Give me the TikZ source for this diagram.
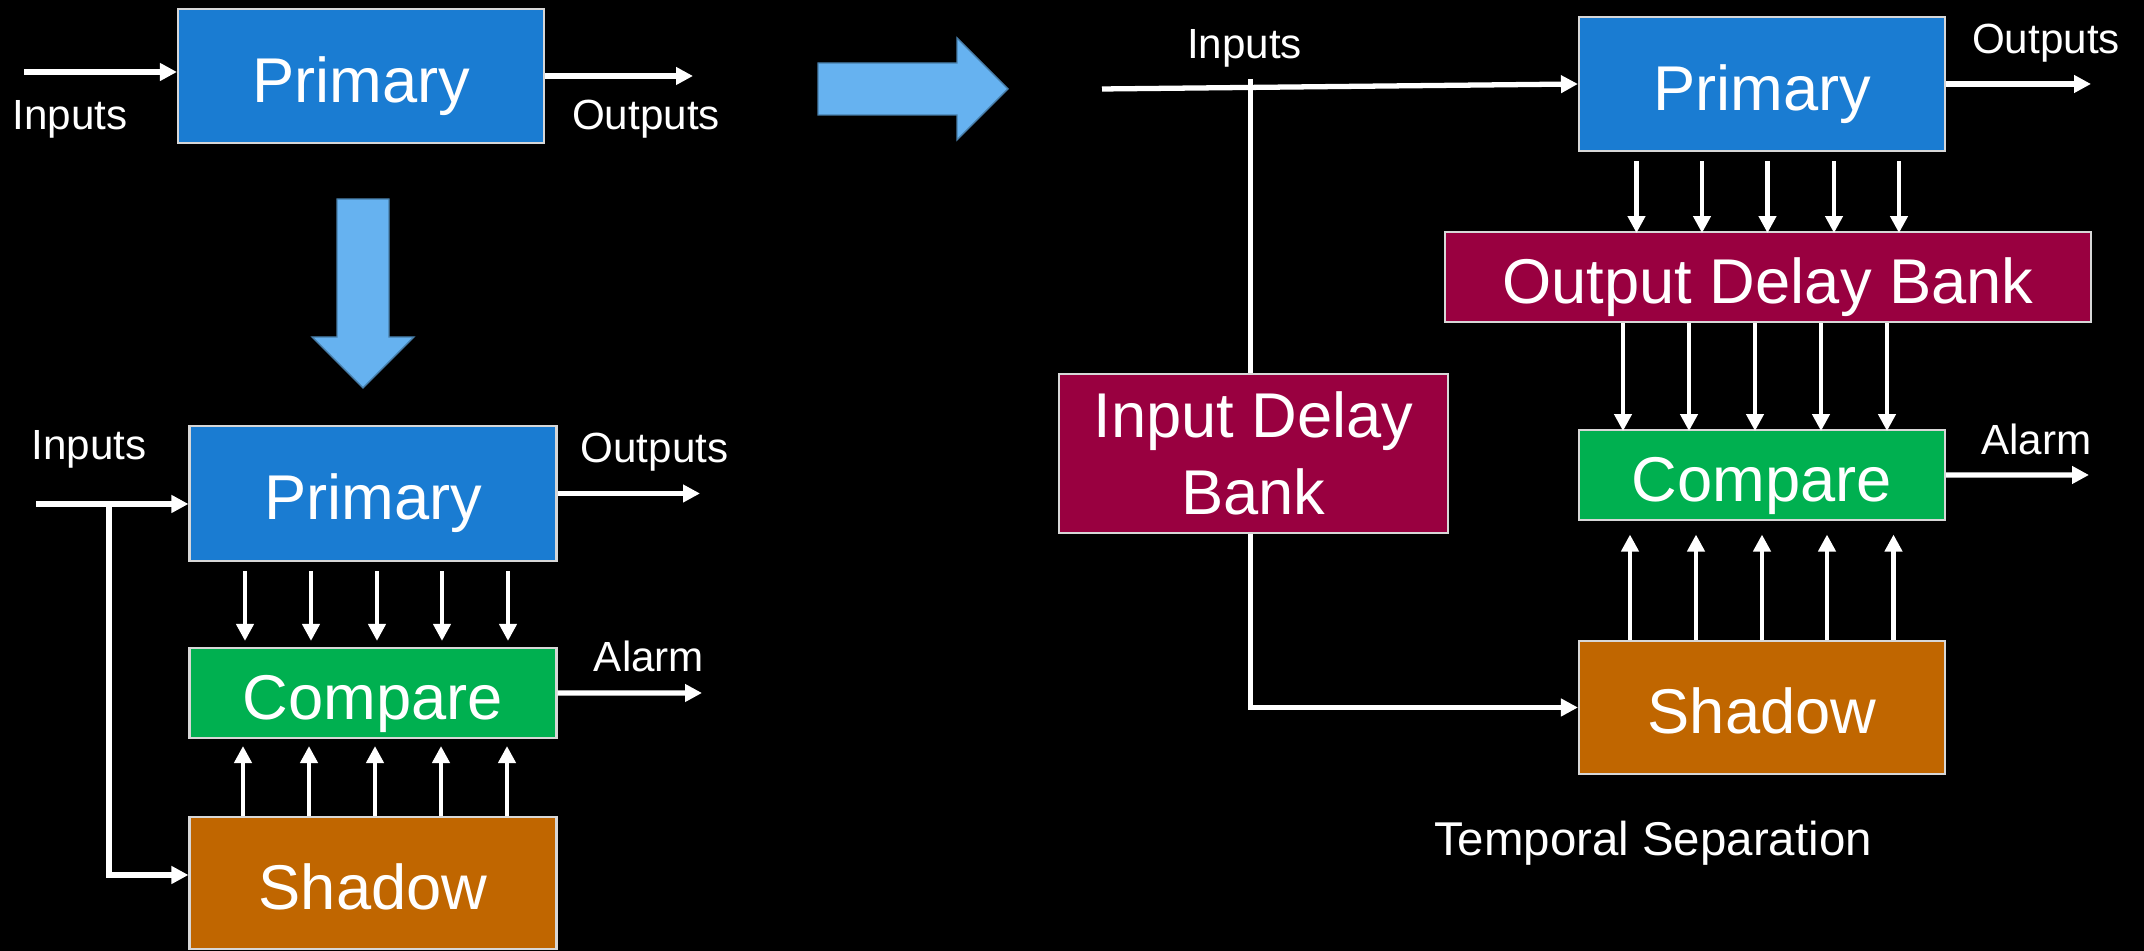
\documentclass[tikz,border=0pt]{standalone}
\usepackage{fontspec}
\setmainfont{Liberation Sans}
\usetikzlibrary{arrows.meta}

\definecolor{primblue}{RGB}{26,124,210}
\definecolor{cmpgreen}{RGB}{0,176,80}
\definecolor{shdorange}{RGB}{192,102,0}
\definecolor{delaycrimson}{RGB}{153,0,64}
\definecolor{bigblue}{RGB}{102,178,240}
\definecolor{boxline}{RGB}{215,215,215}

\begin{document}
\begin{tikzpicture}[node distance = 2cm, semithick]
  \tikzstyle{block} = [rectangle, draw=boxline, line width=0.6pt, text=white,
    font=\fontsize{18}{21.9}\selectfont, inner sep=0pt, minimum width=3.66cm,
    text height=14.9pt, text depth=0pt]
  \tikzstyle{tag} = [text=white, font=\fontsize{12}{14}\selectfont,
    anchor=base, inner sep=0pt]
  \tikzstyle{line} = [draw=white, line width=1.5pt,
    -{Triangle[length=0.17cm, width=0.17cm]}]
  \tikzstyle{wire} = [draw=white, line width=1.3pt]
  \tikzstyle{bus} = [draw=white, line width=1.2pt,
    -{Triangle[length=0.17cm, width=0.17cm]}]
  \tikzstyle{bigarrow} = [fill=bigblue, draw=bigblue!70!black, line width=0.4pt]

  \fill[black] (0,0) rectangle (21.44,-9.51);
  \useasboundingbox (0,0) rectangle (21.44,-9.51);

  % Place nodes: single unit
  \node [block, fill=primblue, minimum height=1.34cm] (prim1) at (3.61,-0.76) {Primary};
  \node [tag] (inlab1) at (0.70,-1.30) {Inputs};
  \node [tag] (outlab1) at (6.46,-1.30) {Outputs};
  \coordinate (in1) at (0.24,-0.72);
  \coordinate (out1) at (6.93,-0.76);

  % Place nodes: primary with shadow
  \node [block, fill=primblue, minimum width=3.67cm, minimum height=1.35cm] (prim2) at (3.73,-4.935) {Primary};
  \node [block, fill=cmpgreen, minimum width=3.67cm, minimum height=0.9cm,
    node distance=1.995cm, below of=prim2] (cmp2) {Compare};
  \node [block, fill=shdorange, minimum width=3.67cm, minimum height=1.32cm,
    node distance=1.90cm, below of=cmp2] (shd2) {Shadow};
  \node [tag] (inlab2) at (0.89,-4.60) {Inputs};
  \node [tag] (outlab2) at (6.545,-4.63) {Outputs};
  \node [tag] (alarm2) at (6.49,-6.72) {Alarm};
  \coordinate (in2) at (0.36,-5.04);
  \coordinate (tap2) at (1.09,-5.04);
  \coordinate (tap2b) at (1.09,-8.75);
  \coordinate (out2) at (7.00,-4.935);
  \coordinate (alarmout2) at (7.02,-6.93);

  % Place nodes: temporal separation
  \node [block, fill=primblue, minimum height=1.34cm] (prim3) at (17.62,-0.84) {Primary};
  \node [block, fill=delaycrimson, minimum width=6.46cm, minimum height=0.9cm,
    node distance=1.93cm, below of=prim3, xshift=0.06cm] (odb) {Output Delay Bank};
  \node [block, fill=cmpgreen, minimum height=0.9cm,
    node distance=3.91cm, below of=prim3] (cmp3) {Compare};
  \node [block, fill=shdorange, minimum height=1.33cm,
    node distance=2.325cm, below of=cmp3] (shd3) {Shadow};
  \node [block, fill=delaycrimson, align=center, minimum width=3.89cm,
    minimum height=1.59cm, text height={}, text depth={}] (idb) at (12.535,-4.535) {Input Delay\\Bank};
  \node [tag] (inlab3) at (12.445,-0.59) {Inputs};
  \node [tag] (outlab3) at (20.46,-0.54) {Outputs};
  \node [tag] (alarm3) at (20.365,-4.55) {Alarm};
  \node [tag, font=\fontsize{13.5}{16}\selectfont] (caption) at (16.53,-8.56) {Temporal Separation};
  \coordinate (in3) at (11.02,-0.89);
  \coordinate (tap3) at (12.505,-0.79);
  \coordinate (out3) at (20.91,-0.84);
  \coordinate (alarmout3) at (20.89,-4.75);

  % Big arrows
  \path [bigarrow] (3.37,-1.99) -- (3.89,-1.99) -- (3.89,-3.37) -- (4.14,-3.37)
    -- (3.63,-3.88) -- (3.12,-3.37) -- (3.37,-3.37) -- cycle;
  \path [bigarrow] (8.18,-0.63) -- (9.57,-0.63) -- (9.57,-0.38) -- (10.08,-0.89)
    -- (9.57,-1.40) -- (9.57,-1.15) -- (8.18,-1.15) -- cycle;

  % Draw edges
  \path [line] (in1) -- (in1 -| prim1.west);
  \path [line] (prim1.east) -- (out1);

  \path [line] (in2) -- (in2 -| prim2.west);
  \path [line] (tap2) -- (tap2b) -- (tap2b -| shd2.west);
  \path [line] (prim2.east) -- (out2);
  \path [line] (cmp2.east) -- (alarmout2);
  \foreach \dx in {-1.28,-0.62,0.04,0.69,1.35}
    \path [bus, shorten <=0.09cm, shorten >=0.06cm]
      ([xshift=\dx cm]prim2.south) -- ([xshift=\dx cm]cmp2.north);
  \foreach \dx in {-1.30,-0.64,0.02,0.68,1.34}
    \path [bus, shorten >=0.07cm]
      ([xshift=\dx cm]shd2.north) -- ([xshift=\dx cm]cmp2.south);

  \path [line] (in3) -- (prim3.west);
  \path [wire] (tap3) -- (tap3 |- idb.north);
  \path [line] (tap3 |- idb.south) |- (shd3);
  \path [line] (prim3.east) -- (out3);
  \path [line] (cmp3.east) -- (alarmout3);
  \foreach \dx in {-1.255,-0.60,0.055,0.72,1.37}
    \path [bus] ([xshift=\dx cm, yshift=-0.09cm]prim3.south) -- ++(0,-0.72);
  \foreach \dx in {-1.45,-0.79,-0.13,0.53,1.19}
    \path [bus] ([xshift=\dx cm]odb.south) -- ++(0,-1.08);
  \foreach \dx in {-1.32,-0.66,0,0.65,1.315}
    \path [bus, shorten >=0.135cm]
      ([xshift=\dx cm]shd3.north) -- ([xshift=\dx cm]cmp3.south);

\end{tikzpicture}
\end{document}
